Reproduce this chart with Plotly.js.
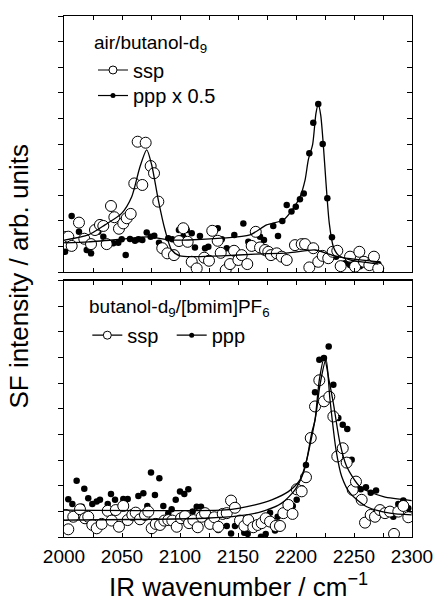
<!DOCTYPE html>
<html>
<head>
<meta charset="utf-8">
<script src="https://cdn.plot.ly/plotly-3.0.1.min.js"></script>
<style>html,body{margin:0;padding:0;background:#fff;}#chart{width:435px;height:602px;}</style>
</head>
<body>
<div id="chart"></div>
<script>
// ---------- tick labels ----------
const xTickVals = [2000,2050,2100,2150,2200,2250,2300];
const xTickText = ['2000','2050','2100','2150','2200','2250','2300'];

// ---------- top panel: air/butanol-d9 ----------
const topSspX = [2000.3,2003.7,2006.6,2012.9,2017.5,2023.3,2026.7,2031.0,2033.9,2036.8,2040.5,2043.4,2047.4,2051.1,2054.1,2057.5,2060.6,2063.5,2067.5,2070.4,2074.7,2077.6,2081.3,2084.7,2089.1,2094.8,2099.1,2102.8,2106.6,2110.1,2114.4,2120.9,2125.0,2127.8,2132.5,2135.1,2139.4,2143.1,2146.6,2150.3,2153.2,2158.0,2161.8,2165.3,2169.0,2173.3,2176.1,2178.4,2183.4,2187.7,2192.0,2199.1,2204.9,2207.8,2211.5,2214.9,2219.2,2223.0,2227.8,2231.6,2235.6,2238.5,2246.6,2250.9,2254.6,2258.6,2263.2,2267.2,2270.9];
const topSspY = [1.37,1.38,1.02,1.93,1.30,1.09,1.64,1.84,1.80,1.09,2.58,2.14,1.69,1.90,2.10,2.27,3.46,5.09,3.40,5.05,4.14,3.86,2.75,0.93,0.73,0.66,1.21,1.71,1.18,0.40,0.14,0.56,0.44,1.61,1.22,0.75,0.08,0.31,0.83,0.47,0.66,0.31,1.02,1.57,0.96,0.86,0.79,0.66,0.73,0.60,0.47,1.05,1.09,1.09,0.18,0.93,0.40,0.63,0.54,0.79,0.83,0.23,0.60,0.21,0.79,0.40,0.27,0.60,0.14];
const topPppX = [2000.9,2006.6,2012.9,2019.6,2023.3,2029.6,2033.9,2042.5,2046.8,2049.7,2053.2,2056.9,2061.2,2064.1,2067.5,2071.3,2074.7,2077.8,2081.9,2089.9,2093.4,2099.1,2102.8,2105.8,2110.1,2112.9,2117.2,2121.6,2124.4,2132.5,2136.0,2140.3,2146.8,2154.6,2158.9,2169.0,2172.4,2180.4,2184.5,2188.2,2192.0,2196.1,2199.8,2203.4,2206.7,2211.5,2214.9,2219.2,2223.0,2227.0,2231.0,2234.5,2242.2,2246.6,2255.2,2263.2,2270.9];
const topPppY = [0.79,2.19,1.57,0.86,0.73,1.57,1.38,1.12,1.14,1.28,0.66,1.29,1.22,1.28,1.25,1.54,1.38,1.42,1.14,1.32,1.28,1.64,1.38,1.64,1.51,0.96,1.41,0.93,0.99,1.71,1.28,0.93,1.45,1.90,1.18,1.38,1.25,1.80,1.41,1.99,2.62,2.36,2.55,2.84,3.07,4.64,5.83,6.56,5.00,2.88,1.36,0.60,0.34,0.27,0.23,0.27,0.31];
const topSspFitX = [2000.3,2021.0,2035.3,2049.7,2058.4,2065.5,2071.3,2075.6,2081.3,2087.1,2092.8,2100.0,2112.9,2136.0,2164.7,2193.4,2216.4,2226.5,2235.1,2271.0];
const topSspFitY = [1.25,1.45,1.84,2.29,2.94,4.11,4.77,4.18,2.81,1.64,0.86,0.63,0.60,0.63,0.70,0.75,0.86,0.73,0.60,0.40];
const topPppFitX = [2000.3,2021.0,2049.7,2072.7,2091.4,2107.2,2136.0,2160.3,2174.7,2189.1,2196.6,2203.4,2207.8,2210.6,2214.4,2217.2,2219.2,2221.3,2223.5,2225.9,2228.7,2232.2,2236.5,2246.6,2271.0];
const topPppFitY = [1.14,1.18,1.28,1.37,1.25,1.25,1.32,1.45,1.84,2.03,2.42,2.93,3.59,4.38,5.00,6.20,6.56,6.13,5.00,3.46,1.90,0.99,0.66,0.47,0.31];

// ---------- bottom panel: butanol-d9/[bmim]PF6 ----------
const botSspX = [2001.5,2003.7,2008.0,2013.8,2018.1,2020.9,2024.4,2028.2,2032.5,2037.7,2041.1,2044.6,2047.4,2051.1,2054.9,2058.9,2061.8,2065.5,2069.8,2072.7,2075.6,2079.1,2082.8,2086.5,2089.9,2093.4,2097.2,2100.9,2104.3,2107.8,2111.5,2115.3,2118.7,2121.6,2125.9,2129.6,2133.0,2136.8,2140.3,2144.0,2147.4,2151.7,2155.4,2158.9,2163.2,2167.0,2170.4,2173.9,2177.6,2182.5,2186.2,2189.1,2193.4,2197.0,2200.6,2204.9,2208.6,2212.7,2216.4,2220.1,2224.1,2228.7,2232.2,2235.6,2240.3,2243.7,2248.9,2251.7,2256.6,2259.5,2264.4,2268.1,2272.4,2276.7,2281.0,2284.5,2288.2,2292.5,2296.8];
const botSspY = [0.86,0.30,0.79,1.08,0.73,0.79,0.47,0.34,0.51,1.02,0.64,1.05,0.40,1.21,0.66,0.86,0.95,0.69,0.86,0.99,0.34,0.51,0.47,0.64,0.66,0.64,0.40,0.73,0.82,0.54,0.66,0.38,0.79,0.93,0.51,0.77,0.40,0.90,0.93,1.42,1.14,0.64,0.43,0.66,0.38,0.47,0.54,0.73,0.60,0.43,0.43,0.93,1.25,0.90,1.86,1.78,2.33,3.86,5.09,6.11,5.29,5.47,4.70,3.14,3.46,2.90,1.84,2.16,1.45,0.56,0.86,0.79,1.05,0.93,0.99,0.12,0.99,1.21,0.77];
const botPppX = [2003.7,2007.2,2010.9,2015.3,2017.5,2020.9,2024.4,2028.2,2031.0,2037.7,2040.5,2044.0,2051.1,2054.9,2064.1,2068.4,2071.8,2075.0,2078.4,2082.2,2085.6,2089.9,2092.8,2096.3,2100.0,2103.7,2107.2,2110.9,2114.4,2118.1,2133.0,2140.3,2144.0,2147.4,2155.4,2158.4,2169.8,2173.9,2177.6,2181.9,2184.2,2192.5,2197.2,2200.6,2204.9,2208.6,2216.4,2220.1,2224.1,2228.2,2232.2,2236.5,2240.3,2244.2,2248.0,2255.8,2260.3,2264.4,2269.0,2283.9,2288.2,2292.5,2296.8];
const botPppY = [1.47,1.29,2.19,1.18,1.88,1.51,1.29,1.38,1.45,1.29,1.68,1.45,1.48,1.48,1.60,1.71,1.21,2.51,1.64,2.29,1.21,0.93,1.08,1.45,1.77,1.68,1.86,0.99,1.18,1.18,0.27,0.43,0.14,0.43,0.17,0.12,0.01,0.12,0.95,0.25,0.79,1.08,1.21,1.45,1.90,2.81,5.64,6.91,6.98,7.43,5.94,4.64,4.38,4.21,3.01,1.86,1.94,1.73,1.81,0.79,1.29,1.42,1.12];
const botSspFitX = [2000.0,2121.6,2150.3,2170.4,2187.7,2199.1,2206.3,2212.1,2217.2,2220.7,2225.9,2229.3,2234.5,2239.4,2246.6,2261.0,2281.0,2299.7];
const botSspFitY = [0.66,0.73,0.82,0.99,1.32,1.84,2.49,3.59,4.77,5.94,6.93,5.35,3.40,2.36,1.71,1.18,0.93,0.86];
const botPppFitX = [2000.0,2136.0,2150.3,2164.7,2179.1,2193.4,2203.4,2209.2,2213.5,2216.4,2220.1,2224.4,2228.4,2232.2,2237.9,2243.7,2255.2,2275.3,2299.7];
const botPppFitY = [1.05,1.05,1.12,1.25,1.45,1.77,2.23,3.01,4.05,4.57,6.13,6.99,6.13,5.22,3.66,2.75,1.96,1.57,1.42];

// ---------- styles ----------
const FONT = 'Arial, "Liberation Sans", sans-serif';
const openMarker = {symbol:'circle', size:11, color:'#ffffff', line:{color:'#000000', width:1}};
const dotMarker = {symbol:'circle', size:6.5, color:'#000000', line:{width:0}};
const fitLine = {color:'#000000', width:1.3, shape:'spline', smoothing:0.7};
const legOpen = {symbol:'circle', size:8, color:'#fff', line:{color:'#000', width:1}};
const legDot = {symbol:'circle', size:5, color:'#000'};
const legLine = {color:'#000', width:1.2};

const traces = [
  {x:topPppX, y:topPppY, xaxis:'x2', yaxis:'y2', mode:'markers', marker:dotMarker, showlegend:false, hoverinfo:'skip'},
  {x:topSspX, y:topSspY, xaxis:'x2', yaxis:'y2', mode:'markers', marker:openMarker, showlegend:false, hoverinfo:'skip'},
  {x:topSspFitX, y:topSspFitY, xaxis:'x2', yaxis:'y4', mode:'lines', line:fitLine, showlegend:false, hoverinfo:'skip'},
  {x:topPppFitX, y:topPppFitY, xaxis:'x2', yaxis:'y4', mode:'lines', line:fitLine, showlegend:false, hoverinfo:'skip'},
  {x:botPppX, y:botPppY, xaxis:'x', yaxis:'y', mode:'markers', marker:dotMarker, showlegend:false, hoverinfo:'skip'},
  {x:botSspX, y:botSspY, xaxis:'x', yaxis:'y', mode:'markers', marker:openMarker, showlegend:false, hoverinfo:'skip'},
  {x:botSspFitX, y:botSspFitY, xaxis:'x', yaxis:'y3', mode:'lines', line:fitLine, showlegend:false, hoverinfo:'skip'},
  {x:botPppFitX, y:botPppFitY, xaxis:'x', yaxis:'y3', mode:'lines', line:fitLine, showlegend:false, hoverinfo:'skip'},
  // legend entries (one legend box each, so each can be placed)
  {x:[null], y:[null], xaxis:'x2', yaxis:'y2', mode:'lines+markers', name:'ssp', legend:'legend', line:legLine, marker:legOpen},
  {x:[null], y:[null], xaxis:'x2', yaxis:'y2', mode:'lines+markers', name:'ppp x 0.5', legend:'legend2', line:legLine, marker:legDot},
  {x:[null], y:[null], xaxis:'x', yaxis:'y', mode:'lines+markers', name:'ssp', legend:'legend3', line:legLine, marker:legOpen},
  {x:[null], y:[null], xaxis:'x', yaxis:'y', mode:'lines+markers', name:'ppp', legend:'legend4', line:legLine, marker:legDot}
];

const xCommon = {
  range:[2000,2300], tickmode:'array', tickvals:xTickVals, ticktext:xTickText,
  ticks:'inside', ticklen:4, tickwidth:1, tickcolor:'#000',
  minor:{dtick:25, ticks:'inside', ticklen:4, tickwidth:1, tickcolor:'#000', showgrid:false},
  showline:true, linecolor:'#000', linewidth:1.2, mirror:'ticks',
  showgrid:false, zeroline:false, fixedrange:true
};
const yCommon = {
  range:[0,10], dtick:1, ticks:'outside', ticklen:5, tickwidth:1, tickcolor:'#000',
  showline:true, linecolor:'#000', linewidth:1.2, showticklabels:false,
  showgrid:false, zeroline:false, fixedrange:true
};
const yRight = {
  range:[0,10], dtick:1, ticks:'inside', ticklen:5, tickwidth:1, tickcolor:'#000',
  showline:true, linecolor:'#000', linewidth:1.2, showticklabels:false, side:'right',
  showgrid:false, zeroline:false, fixedrange:true
};
function leg(x, y){
  return {x:x, y:y, xanchor:'left', yanchor:'top', bgcolor:'rgba(0,0,0,0)', borderwidth:0,
          font:{size:20, family:FONT, color:'#000'}, itemwidth:30};
}

const layout = {
  width:435, height:602,
  margin:{l:64, r:23, t:16, b:65},
  paper_bgcolor:'#ffffff', plot_bgcolor:'rgba(0,0,0,0)',
  font:{family:FONT, color:'#000', size:18},
  showlegend:true,
  xaxis:Object.assign({}, xCommon, {anchor:'y', domain:[0,1],
    tickfont:{size:19, family:FONT}, showticklabels:true, ticklabelstandoff:2}),
  xaxis2:Object.assign({}, xCommon, {anchor:'y2', domain:[0,1], showticklabels:false}),
  yaxis:Object.assign({}, yCommon, {anchor:'x', domain:[0,0.4923]}),
  yaxis2:Object.assign({}, yCommon, {anchor:'x2', domain:[0.5086,1]}),
  yaxis3:Object.assign({}, yRight, {overlaying:'y', anchor:'x'}),
  yaxis4:Object.assign({}, yRight, {overlaying:'y2', anchor:'x2'}),
  legend:leg(0.0833, 0.9338),
  legend2:leg(0.0833, 0.8848),
  legend3:leg(0.067, 0.4248),
  legend4:leg(0.3095, 0.4248),
  annotations:[
    {text:'air/butanol-d<sub>9</sub>', xref:'paper', yref:'paper', x:0.080, y:0.9460,
     xanchor:'left', yanchor:'middle', showarrow:false, font:{size:19, family:FONT, color:'#000'}},
    {text:'butanol-d<sub>9</sub>/[bmim]PF<sub>6</sub>', xref:'paper', yref:'paper', x:0.0652, y:0.4395,
     xanchor:'left', yanchor:'middle', showarrow:false, font:{size:19, family:FONT, color:'#000'}},
    {text:'SF intensity / arb. units', xref:'paper', yref:'paper', x:-0.132, y:0.5,
     xanchor:'center', yanchor:'middle', textangle:-90, showarrow:false,
     font:{size:26, family:FONT, color:'#000'}},
    {text:'IR wavenumber / cm<sup>\u22121</sup>', xref:'paper', yref:'paper', x:0.5, y:-0.094,
     xanchor:'center', yanchor:'middle', showarrow:false,
     font:{size:26, family:FONT, color:'#000'}}
  ]
};

Plotly.newPlot('chart', traces, layout, {displayModeBar:false, staticPlot:true});
</script>
</body>
</html>
